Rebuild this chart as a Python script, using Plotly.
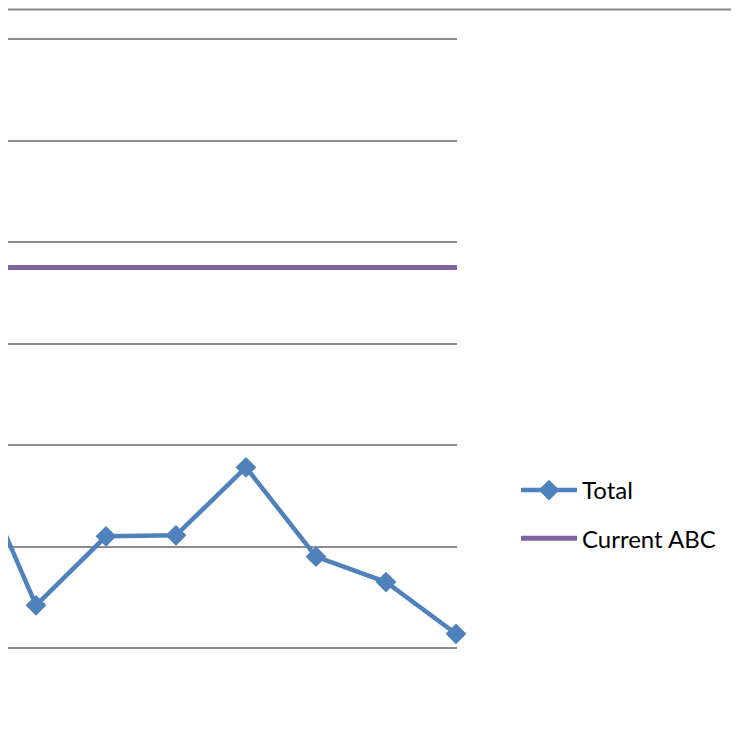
import plotly.graph_objects as go

categories = [0, 1, 2, 3, 4, 5, 6, 7]
total = [2.02, 0.42, 1.10, 1.11, 1.78, 0.90, 0.65, 0.14]
current_x = [0, 1, 2, 3, 4, 5, 6, 7, 7.02]
current_abc = [3.75] * 9

# page body has an 8px margin, so the figure is drawn at (8, 8)
W, H = 731, 738
fig = go.Figure()
fig.add_trace(go.Scatter(
    x=categories, y=total, name="Total", mode="lines+markers",
    line=dict(color="#4F81BD", width=4.5),
    marker=dict(symbol="diamond", size=16, color="#4F81BD"),
    cliponaxis=False, legendgroup="a",
))
fig.add_trace(go.Scatter(
    x=current_x, y=current_abc, name="Current ABC", mode="lines",
    line=dict(color="#8064A2", width=5), legendgroup="b",
))

px_per_x = 70.0
x_left = 1 - 28 / px_per_x
x_right = 7 + 1 / px_per_x
px_per_y = 101.5
zero_px = 640
y_top = zero_px / px_per_y
y_bot = -(H - zero_px) / px_per_y

fig.add_shape(type="line", xref="paper", yref="y", x0=0, x1=1.02,
              y0=(zero_px - 1.5) / px_per_y, y1=(zero_px - 1.5) / px_per_y,
              line=dict(color="#8c8c8c", width=2))

fig.update_layout(
    width=W, height=H,
    margin=dict(l=0, r=0, t=0, b=0),
    paper_bgcolor="white", plot_bgcolor="white",
    xaxis=dict(domain=[0, 449 / W], range=[x_left, x_right],
               showgrid=False, zeroline=False, showticklabels=False, showline=False),
    yaxis=dict(range=[y_bot, y_top], tick0=0, dtick=1, showgrid=True,
               gridcolor="#8c8c8c", gridwidth=2, zeroline=False,
               showticklabels=False, showline=False),
    showlegend=True,
    legend=dict(x=508 / W, y=(H - 460) / H, xanchor="left", yanchor="top",
                font=dict(family="Lato, Open Sans, sans-serif", size=24, color="black"),
                traceorder="grouped", tracegroupgap=14, itemwidth=56,
                bgcolor="rgba(0,0,0,0)"),
)
fig.write_html("out.html")
